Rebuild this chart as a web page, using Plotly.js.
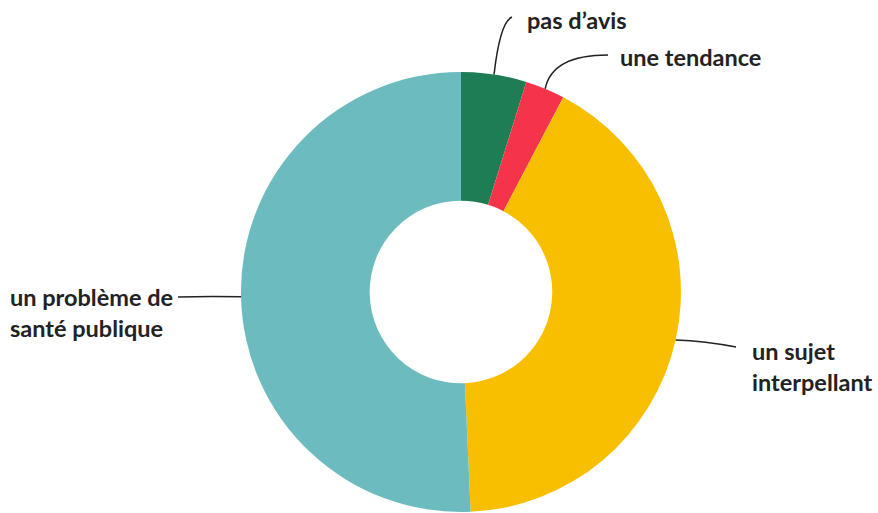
<!DOCTYPE html>
<html><head><meta charset="utf-8">
<script src="https://cdn.plot.ly/plotly-3.0.1.min.js"></script>
<style>html,body{margin:0;padding:0;background:#fff}#chart{width:878px;height:513px}</style>
</head><body><div id="chart"></div>
<script>
const labels = ["pas d'avis", "une tendance", "un sujet interpellant", "un problème de santé publique"];
const displayLabels = ["pas d’avis", "une tendance", "un sujet<br>interpellant", "un problème de<br>santé publique"];
const values = [4.8, 2.9, 41.6, 50.7];
const colors = ["#1e7d55", "#f5344b", "#f8bf00", "#6cbbbf"];

const W = 878, H = 513;
const M = {l: 0, r: 0, t: 72, b: 1};
const cx = 461, cy = 292, R = 220;
const px2x = p => p / W;
const px2y = p => (H - M.b - p) / (H - M.t - M.b);

// slice mid-angle anchor points on the outer edge
const total = values.reduce((a, b) => a + b, 0);
let cum = 0;
const anchors = values.map(v => {
  const mid = (cum + v / 2) / total * 2 * Math.PI;
  cum += v;
  return [cx + R * Math.sin(mid), cy - R * Math.cos(mid)];
});

// label layout (pixel positions), leader-line end points and control points
const labelPos = [
  {x: 525, y: 20, end: [512, 17], ctrl: [500, 22]},
  {x: 618, y: 57, end: [608, 55], ctrl: [552, 55]},
  {x: 750, y: 366, end: [736, 347], ctrl: [705, 341]},
  {x: 8, y: 312, end: [178, 297], ctrl: [210, 296]}
];

const shapes = labelPos.map((p, i) => {
  const a = anchors[i];
  return {
    type: 'path', xref: 'paper', yref: 'paper',
    path: `M ${px2x(a[0])} ${px2y(a[1])} Q ${px2x(p.ctrl[0])} ${px2y(p.ctrl[1])} ${px2x(p.end[0])} ${px2y(p.end[1])}`,
    line: {color: '#222', width: 1.5}
  };
});

const annotations = labelPos.map((p, i) => ({
  xref: 'paper', yref: 'paper', x: px2x(p.x), y: px2y(p.y),
  xanchor: 'left', yanchor: 'middle', align: 'left',
  text: displayLabels[i], showarrow: false,
  font: {family: 'Lato, sans-serif', size: 23.5, color: '#222', weight: 700}
}));

Plotly.newPlot('chart', [{
  type: 'pie', labels: labels, values: values, hole: 0.415,
  sort: false, direction: 'clockwise', rotation: 0,
  marker: {colors: colors, line: {width: 0}},
  textinfo: 'none', hoverinfo: 'label+percent',
  domain: {x: [0.2, 0.85], y: [0, 1]}
}], {
  width: W, height: H, margin: M, showlegend: false,
  paper_bgcolor: '#fff', plot_bgcolor: '#fff',
  shapes: shapes, annotations: annotations
}, {displayModeBar: false, staticPlot: true});
</script></body></html>
